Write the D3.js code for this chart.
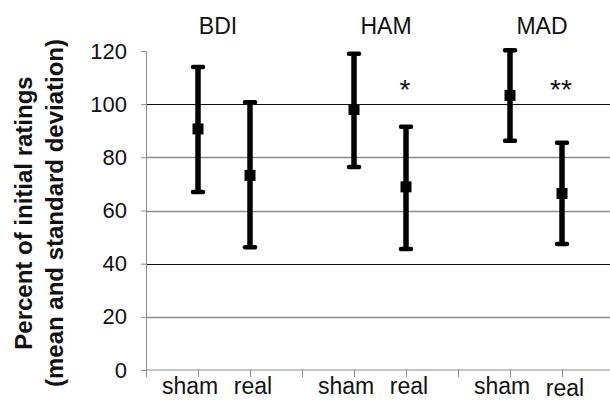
<!DOCTYPE html>
<html>
<head>
<meta charset="utf-8">
<script src="https://cdn.jsdelivr.net/npm/d3@7"></script>
<style>
  body { margin: 0; background: #fff; }
  svg { display: block; font-family: "Liberation Sans", Arial, sans-serif; }
</style>
</head>
<body>
<svg id="chart" width="610" height="401"></svg>
<script>
// scale di valutazione e condizioni
const scales = ["BDI", "HAM", "MAD"];
const conditions = ["sham", "real"];

// media e limiti (media +/- deviazione standard), in % del valore iniziale
const means = [[90.7, 73.2], [98, 68.9], [103.3, 66.4]];
const upper = [[114, 100.7], [119, 91.5], [120.3, 85.5]];
const lower = [[67, 46.2], [76.4, 45.5], [86.2, 47.4]];
const stars = [["", ""], ["", "*"], ["", "**"]];

const yTicks = [0, 20, 40, 60, 80, 100, 120];

const svg = d3.select("#chart");
const W = 610;

// asse x: 3 slot per gruppo (sham, real, spazio)
const x = d3.scaleLinear().domain([0, 9]).range([146, 614]);
const y = d3.scaleLinear().domain([0, 120]).range([370, 51]);

const points = [];
scales.forEach((s, g) => {
  conditions.forEach((c, k) => {
    points.push({
      scale: s, cond: c, g: g, k: k, slot: g * 3 + 1 + k,
      mean: means[g][k], hi: upper[g][k], lo: lower[g][k], star: stars[g][k]
    });
  });
});

// griglia (alcune linee appaiono più scure nell'originale)
svg.append("g")
  .selectAll("line")
  .data(yTicks.filter(v => v > 0 && v < 120))
  .join("line")
  .attr("x1", x(0)).attr("x2", W)
  .attr("y1", d => Math.round(y(d)) + 0.5)
  .attr("y2", d => Math.round(y(d)) + 0.5)
  .attr("stroke", d => (d === 100 || d === 40) ? "#111" : "#8c8c8c")
  .attr("stroke-width", d => (d === 100 || d === 40) ? 1.2 : 1.4);

// asse y
const yAxis = svg.append("g")
  .attr("transform", `translate(${x(0)},0)`)
  .call(d3.axisLeft(y).tickValues(yTicks).tickSize(5).tickSizeOuter(0).tickPadding(14));
yAxis.select(".domain").attr("stroke", "#8c8c8c");
yAxis.selectAll(".tick line").attr("stroke", "#8c8c8c");
yAxis.selectAll(".tick text")
  .attr("font-size", "22px")
  .attr("font-family", "Liberation Sans, Arial, sans-serif")
  .attr("fill", "#111");

// asse x
const xAxis = svg.append("g")
  .attr("transform", `translate(0,${y(0)})`)
  .call(d3.axisBottom(x).tickValues(d3.range(0, 10)).tickSize(7).tickSizeOuter(0).tickFormat(""));
xAxis.select(".domain").attr("stroke", "#8c8c8c").attr("d", `M${x(0)},0H${W}`);
xAxis.selectAll(".tick line").attr("stroke", "#8c8c8c");

// etichette condizioni
svg.append("g")
  .selectAll("text")
  .data(points)
  .join("text")
  .attr("x", d => x(d.slot) + (d.k === 0 ? -8 : 3))
  .attr("y", d => (d.g === 2 && d.k === 1) ? 396 : 394)
  .attr("text-anchor", "middle")
  .attr("font-size", "23px")
  .attr("fill", "#111")
  .text(d => d.cond);

// titoli dei gruppi
svg.append("g")
  .selectAll("text")
  .data(scales)
  .join("text")
  .attr("x", (d, i) => (x(i * 3 + 1) + x(i * 3 + 2)) / 2 + (i === 0 ? -6 : 6))
  .attr("y", 34)
  .attr("text-anchor", "middle")
  .attr("font-size", "23px")
  .attr("fill", "#111")
  .text(d => d);

// barre d'errore
const bars = svg.append("g").selectAll("g.bar").data(points).join("g").attr("class", "bar");

bars.append("line")
  .attr("x1", d => x(d.slot)).attr("x2", d => x(d.slot))
  .attr("y1", d => y(d.hi)).attr("y2", d => y(d.lo))
  .attr("stroke", "#000").attr("stroke-width", 5.5);

["hi", "lo"].forEach(key => {
  bars.append("line")
    .attr("x1", d => x(d.slot) - 5).attr("x2", d => x(d.slot) + 5)
    .attr("y1", d => y(d[key])).attr("y2", d => y(d[key]))
    .attr("stroke", "#000").attr("stroke-width", 4.5)
    .attr("stroke-linecap", "round");
});

bars.append("rect")
  .attr("x", d => x(d.slot) - 5.5).attr("y", d => y(d.mean) - 5.5)
  .attr("width", 11).attr("height", 11)
  .attr("fill", "#000");

// asterischi di significatività
svg.append("g")
  .selectAll("text")
  .data(points.filter(d => d.star))
  .join("text")
  .attr("x", d => x(d.slot) - 1)
  .attr("y", 99)
  .attr("text-anchor", "middle")
  .attr("font-size", "28px")
  .attr("fill", "#111")
  .text(d => d.star);

// titolo asse y su due righe
const yTitle = svg.append("g").attr("transform", "translate(0,213) rotate(-90)");
yTitle.append("text")
  .attr("x", 0).attr("y", 32)
  .attr("text-anchor", "middle")
  .attr("font-size", "24px").attr("font-weight", "bold").attr("fill", "#111")
  .text("Percent of initial ratings");
yTitle.append("text")
  .attr("x", 0).attr("y", 63)
  .attr("text-anchor", "middle")
  .attr("font-size", "24px").attr("font-weight", "bold").attr("fill", "#111")
  .text("(mean and standard deviation)");
</script>
</body>
</html>
